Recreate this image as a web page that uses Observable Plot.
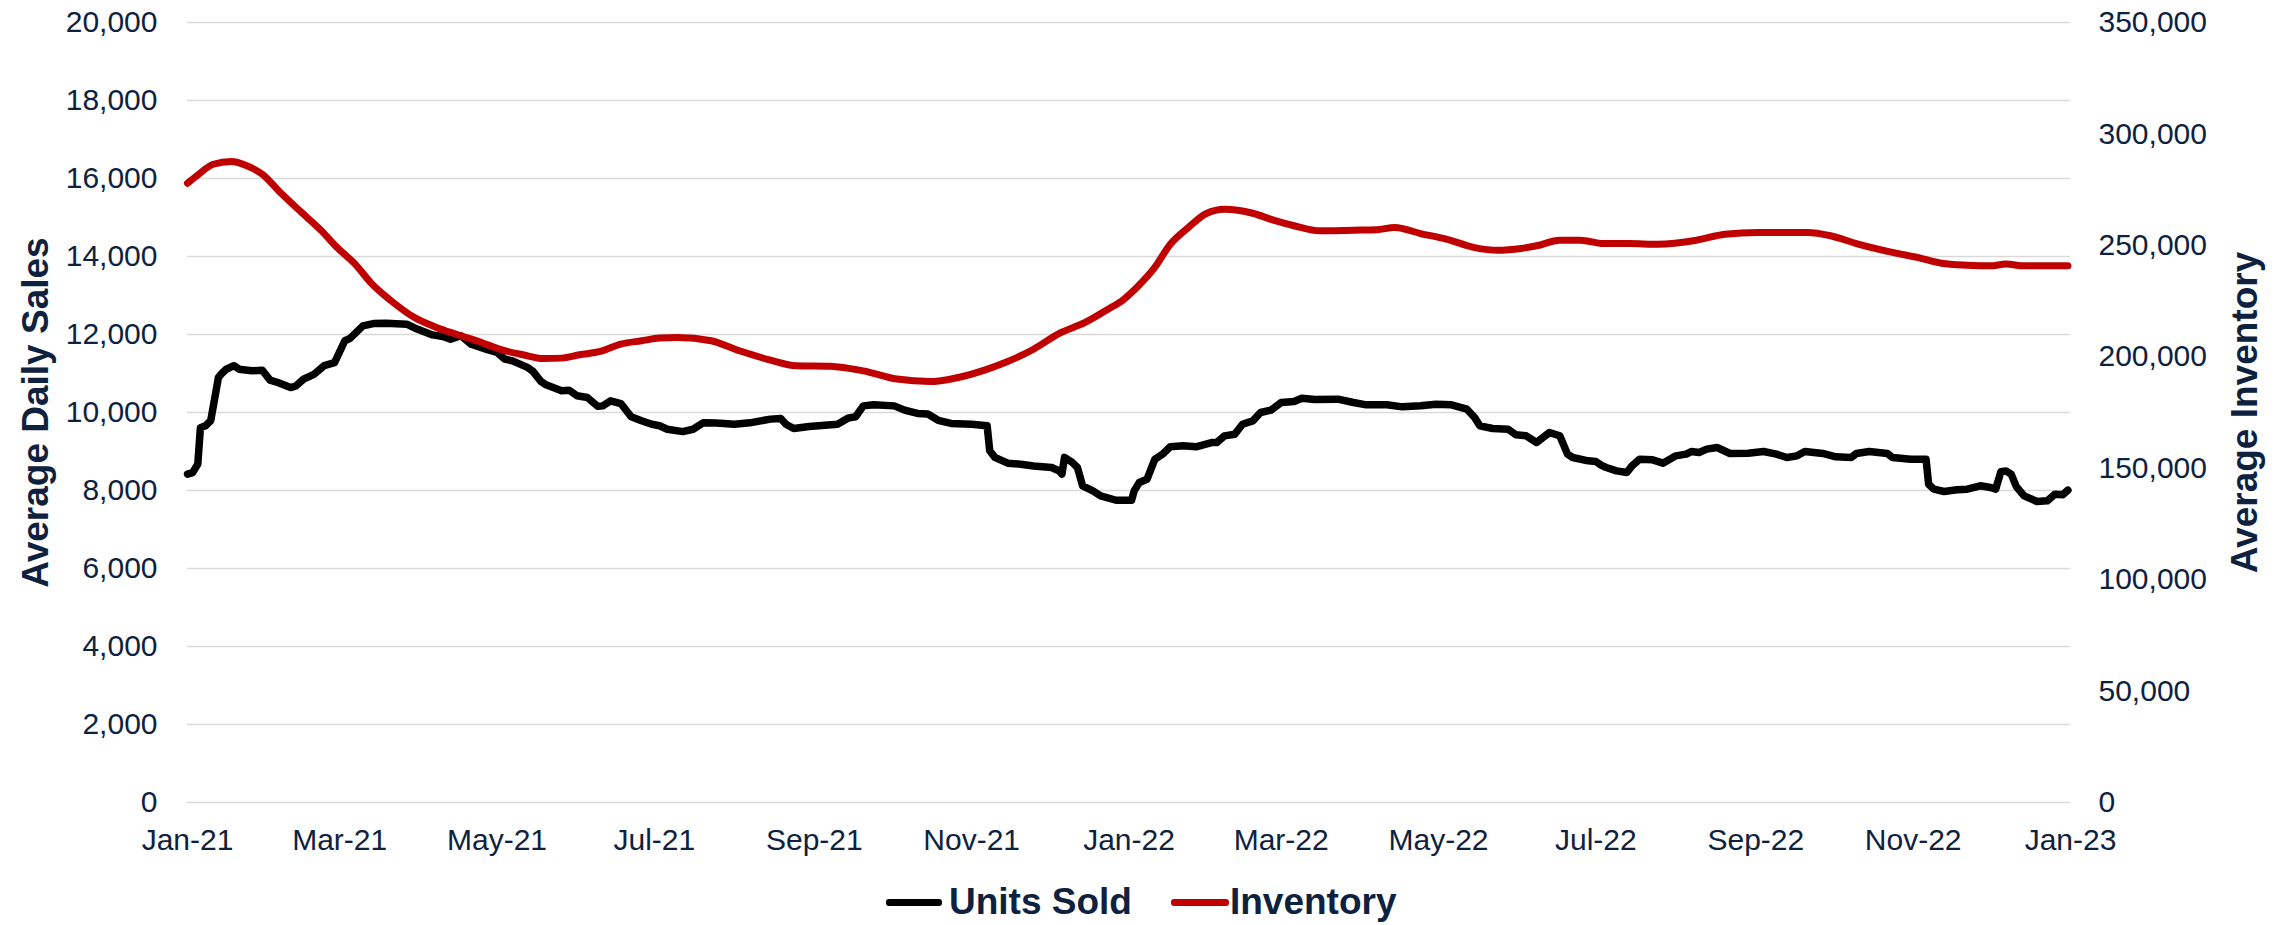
<!DOCTYPE html>
<html>
<head>
<meta charset="utf-8">
<script src="https://cdn.jsdelivr.net/npm/d3@7"></script>
<script src="https://cdn.jsdelivr.net/npm/@observablehq/plot@0.6"></script>
<style>
  html, body { margin: 0; padding: 0; background: #fff; }
  #wrap { position: relative; width: 2290px; height: 925px; overflow: hidden; }
  #legend { position: absolute; top: 879px; left: 886px; height: 46px; display: flex; align-items: center;
    font: bold 37px "Liberation Sans", Arial, sans-serif; color: #0E2240; white-space: nowrap; }
  .sw { display: inline-block; height: 7px; border-radius: 3px; }
</style>
</head>
<body>
<div id="wrap">
  <div id="chart"></div>
  <div id="legend">
    <span class="sw" style="width:56px;background:#000;margin-right:7px"></span><span>Units Sold</span>
    <span class="sw" style="width:58px;background:#C00000;margin-left:39px;margin-right:1px"></span><span>Inventory</span>
  </div>
</div>
<script>
// ---- data (day offsets from 2021-01-01) ----
const salesDays = [0,2,4,5,7,9,12,13,15,18,20,25,29,32,35,40,42,45,49,53,57,61,63,68,72,77,85,89,95,99,102,106,110,116,120,123,126,132,134,137,139,145,148,151,155,159,161,164,168,172,176,180,183,186,192,196,200,205,212,218,226,230,232,235,241,252,256,259,262,266,274,278,283,287,291,296,304,310,311,313,318,323,328,335,338,339,340,343,345,347,351,354,360,366,367,369,372,375,378,381,386,391,397,399,402,406,409,413,416,420,424,429,432,437,446,452,457,465,471,478,484,490,496,499,501,506,512,515,519,523,528,532,535,537,543,546,548,550,554,558,560,563,568,572,577,581,583,586,589,593,598,605,611,616,620,624,627,634,639,645,647,652,659,661,668,674,675,677,681,686,690,695,699,701,703,705,707,709,712,717,721,724,727,729];
const salesValues = [8420,8460,8680,9610,9660,9790,10900,10980,11110,11200,11110,11070,11085,10830,10770,10640,10680,10855,10980,11200,11280,11840,11900,12220,12280,12290,12265,12140,11990,11950,11880,11970,11750,11620,11540,11370,11325,11150,11050,10800,10710,10560,10570,10430,10385,10160,10170,10300,10230,9890,9790,9700,9660,9570,9510,9570,9740,9730,9700,9735,9830,9846,9700,9590,9640,9700,9855,9890,10170,10200,10170,10060,9975,9960,9800,9720,9700,9660,9020,8850,8700,8675,8630,8590,8500,8420,8850,8720,8590,8120,7990,7860,7750,7750,7990,8205,8290,8800,8930,9120,9145,9120,9230,9230,9400,9444,9700,9786,10000,10060,10256,10282,10367,10333,10342,10256,10197,10197,10145,10171,10214,10197,10085,9872,9658,9590,9573,9427,9402,9231,9487,9402,8932,8846,8761,8744,8650,8590,8504,8462,8632,8803,8786,8701,8889,8932,8999,8974,9060,9103,8949,8957,8999,8932,8846,8889,8999,8949,8863,8846,8949,8999,8949,8846,8803,8803,8162,8034,7974,8017,8034,8120,8077,8034,8480,8500,8419,8100,7863,7718,7735,7906,7889,8009];

const invDays = [0,4,10,17,23,29,36,44,52,58,65,71,79,88,96,105,114,121,130,138,145,152,160,168,176,183,190,203,214,226,236,249,262,275,288,296,309,317,328,338,348,358,362,368,375,381,388,395,402,413,421,429,439,452,461,468,478,488,499,508,517,523,532,540,549,559,570,585,596,609,621,628,637,647,660,671,680,690,699,705,712,729];
const invValues = [277900,281600,286400,287600,285700,281900,273700,265000,256500,249000,241600,233300,225100,217600,213400,209800,206400,203400,200900,199200,199400,200900,202400,205700,207200,208400,208700,207200,202700,198500,196000,195800,193700,190000,188900,190000,194000,197400,203400,210500,215400,222100,224900,231100,240100,250500,258000,264300,266200,264400,261300,258800,256500,256800,257000,258000,255300,252800,249000,247800,248600,249800,252300,252300,250800,250800,250500,252300,255000,255800,255800,255800,254300,250800,247100,244500,242000,241100,240800,241600,240800,240800];

const leftTicks = [0,2000,4000,6000,8000,10000,12000,14000,16000,18000,20000];
const rightTicks = [0,50000,100000,150000,200000,250000,300000,350000];
const seriesNames = ["Units Sold", "Inventory"];
const axisTitles = ["Average Daily Sales", "Average Inventory"];

// ---- build ----
const RATIO = 350000 / 20000;
const start = Date.UTC(2021, 0, 1);
const toDate = d => new Date(start + d * 864e5);
const sales = salesDays.map((d, i) => ({date: toDate(d), value: salesValues[i]}));
const inv = invDays.map((d, i) => ({date: toDate(d), value: invValues[i] / RATIO}));
const xTicks = d3.utcMonth.every(2).range(toDate(0), toDate(731));
const navy = "#0E2240";
const fmt = d3.format(",");

const chart = Plot.plot({
  width: 2290,
  height: 870,
  marginLeft: 187,
  marginRight: 220,
  marginTop: 22,
  marginBottom: 68,
  style: {fontFamily: "'Liberation Sans', Arial, sans-serif", color: navy, background: "#fff"},
  x: {type: "utc", domain: [toDate(0), toDate(730)]},
  y: {domain: [0, 20000]},
  marks: [
    Plot.gridY(leftTicks, {stroke: "#d9d9d9", strokeOpacity: 1, strokeWidth: 1.5}),
    Plot.axisY(leftTicks, {anchor: "left", tickSize: 0, tickPadding: 30, tickFormat: fmt, fontSize: 30, label: null}),
    Plot.axisY(rightTicks.map(v => v / RATIO), {anchor: "right", tickSize: 0, tickPadding: 28,
      tickFormat: d => fmt(Math.round(d * RATIO)), fontSize: 30, label: null}),
    Plot.axisX(xTicks, {anchor: "bottom", tickSize: 0, tickPadding: 26, tickFormat: d3.utcFormat("%b-%y"), fontSize: 30, label: null}),
    Plot.line(sales, {x: "date", y: "value", stroke: "#000", strokeWidth: 7.5, strokeLinejoin: "round", strokeLinecap: "round"}),
    Plot.line(inv, {x: "date", y: "value", stroke: "#C00000", strokeWidth: 7, curve: "monotone-x", strokeLinecap: "round"}),
    Plot.text([axisTitles[0]], {text: d => d, frameAnchor: "left", dx: -151.5, rotate: -90, textAnchor: "middle",
      fontSize: 37, fontWeight: "bold", fill: navy}),
    Plot.text([axisTitles[1]], {text: d => d, frameAnchor: "right", dx: 175, rotate: -90, textAnchor: "middle",
      fontSize: 37, fontWeight: "bold", fill: navy})
  ]
});
document.getElementById("chart").appendChild(chart);
</script>
</body>
</html>
